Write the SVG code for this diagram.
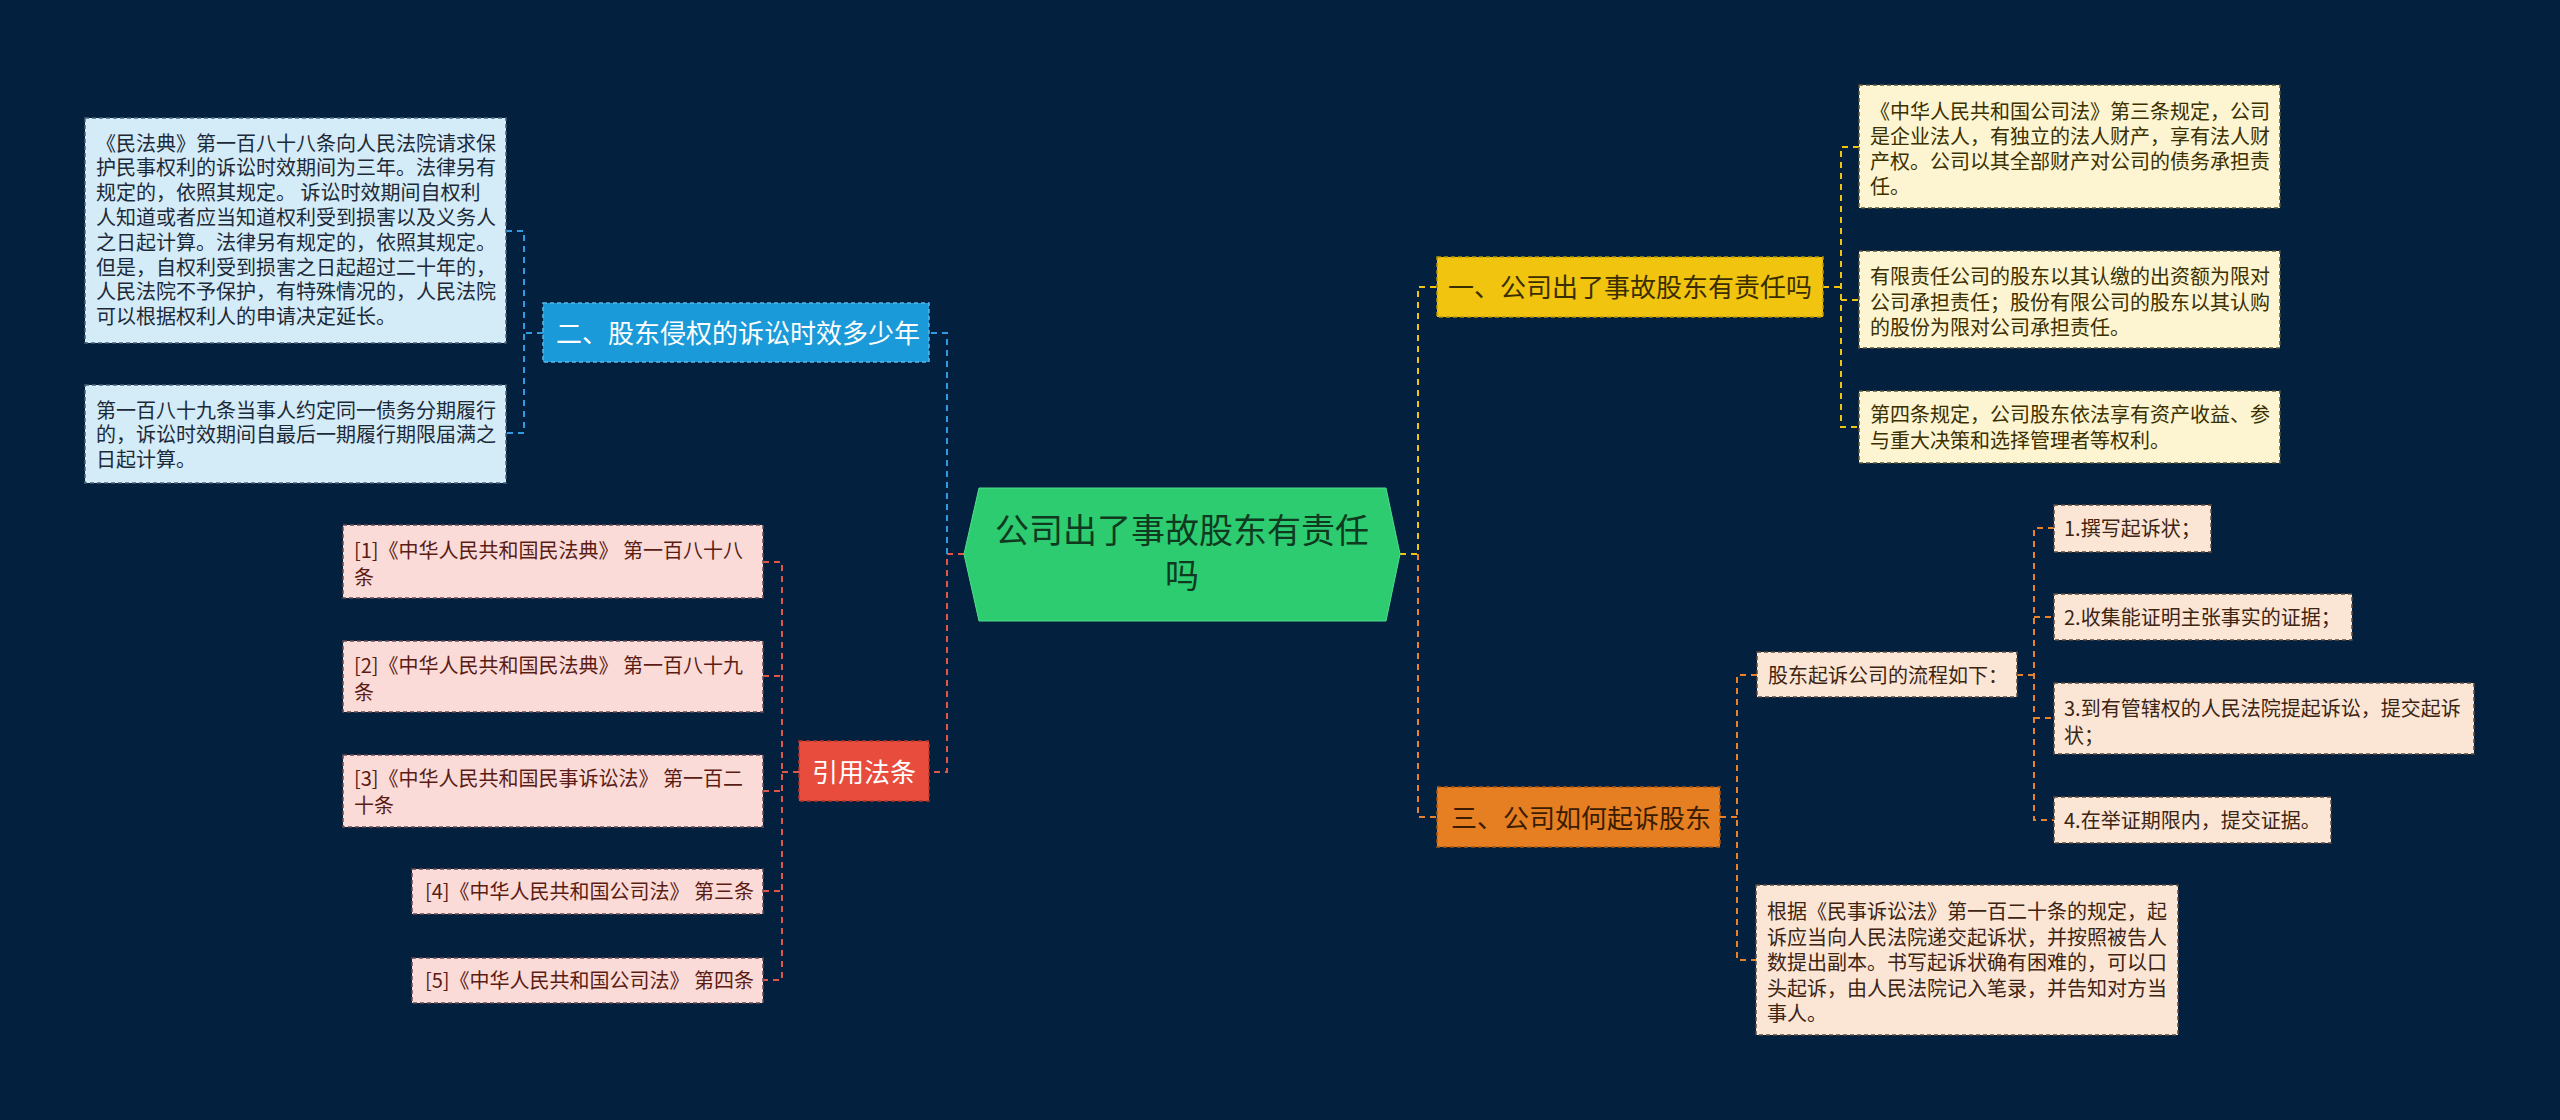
<svg xmlns="http://www.w3.org/2000/svg" width="2560" height="1120" viewBox="0 0 2560 1120">
<style>
text{font-family:"Noto Sans CJK SC","Noto Sans",sans-serif;}
.t20{font-size:20px;}
.t26{font-size:26px;}
.c{fill:none;stroke-width:2;stroke-dasharray:6 5;}
.cb{stroke:#2f9be0;}
.cr{stroke:#e0574a;}
.cy{stroke:#f1c40f;}
.co{stroke:#e8832c;}
.boxb{fill:#d4ebf8;stroke:#4a6278;stroke-width:1.5;stroke-dasharray:4 3;}
.boxp{fill:#fadbd8;stroke:#6a4a50;stroke-width:1.5;stroke-dasharray:4 3;}
.boxy{fill:#fdf5d2;stroke:#5a5438;stroke-width:1.5;stroke-dasharray:4 3;}
.boxo{fill:#fbe6d6;stroke:#5e4a3c;stroke-width:1.5;stroke-dasharray:4 3;}
.tb{fill:#1c2a38;}
.tp{fill:#5a1c14;}
.ty{fill:#3a3000;}
.to{fill:#3e2412;}
</style>
<rect x="0" y="0" width="2560" height="1120" fill="#03203f"/>

<g id="connectors">
  <path class="c cb" d="M947,554 V333 H929"/>
  <path class="c cr" d="M964,554 H947 V772 H929"/>
  <path class="c cb" d="M543,333 H524"/>
  <path class="c cb" d="M506,231 H524 V433 H506"/>
  <path class="c cr" d="M799,772 H782"/>
  <path class="c cr" d="M763,562 H782 V980 H763"/>
  <path class="c cr" d="M763,676 H782"/>
  <path class="c cr" d="M763,791 H782"/>
  <path class="c cr" d="M763,891 H782"/>
  <path class="c cy" d="M1400,554 H1418 V287 H1437"/>
  <path class="c co" d="M1418,554 V817 H1437"/>
  <path class="c cy" d="M1823,287 H1841"/>
  <path class="c cy" d="M1859,147 H1841 V427 H1859"/>
  <path class="c cy" d="M1841,300 H1859"/>
  <path class="c co" d="M1720,817 H1737"/>
  <path class="c co" d="M1757,675 H1737 V960 H1756"/>
  <path class="c co" d="M2017,675 H2034"/>
  <path class="c co" d="M2054,528 H2034 V820 H2054"/>
  <path class="c co" d="M2034,617 H2054"/>
  <path class="c co" d="M2034,718 H2054"/>
</g>

<g id="center">
  <polygon points="964,554 979,488 1386,488 1400,554 1386,621 979,621" fill="#2ecc71" stroke="#4ee08a" stroke-width="1"/>
  <text x="1182" y="543" font-size="34" text-anchor="middle" fill="#0f3a20">公司出了事故股东有责任</text>
  <text x="1182" y="588" font-size="34" text-anchor="middle" fill="#0f3a20">吗</text>
</g>

<g id="branch-2">
  <rect x="543" y="303" width="386" height="59" fill="#1a9ad8" stroke="#5ab8e6" stroke-width="1.5" stroke-dasharray="4 3"/>
  <text class="t26" x="556" y="343" fill="#ffffff">二、股东侵权的诉讼时效多少年</text>
</g>

<g id="b2-text1">
  <rect class="boxb" x="85" y="118" width="421" height="225"/>
  <text class="t20 tb">
    <tspan x="96" y="150.6">《民法典》第一百八十八条向人民法院请求保</tspan>
    <tspan x="96" y="175.4">护民事权利的诉讼时效期间为三年。法律另有</tspan>
    <tspan x="96" y="200.2">规定的，依照其规定。 诉讼时效期间自权利</tspan>
    <tspan x="96" y="225">人知道或者应当知道权利受到损害以及义务人</tspan>
    <tspan x="96" y="249.8">之日起计算。法律另有规定的，依照其规定。</tspan>
    <tspan x="96" y="274.6">但是，自权利受到损害之日起超过二十年的，</tspan>
    <tspan x="96" y="299.4">人民法院不予保护，有特殊情况的，人民法院</tspan>
    <tspan x="96" y="324.2">可以根据权利人的申请决定延长。</tspan>
  </text>
</g>

<g id="b2-text2">
  <rect class="boxb" x="85" y="385" width="421" height="98"/>
  <text class="t20 tb">
    <tspan x="96" y="417.6">第一百八十九条当事人约定同一债务分期履行</tspan>
    <tspan x="96" y="442.2">的，诉讼时效期间自最后一期履行期限届满之</tspan>
    <tspan x="96" y="466.8">日起计算。</tspan>
  </text>
</g>

<g id="branch-ref">
  <rect x="799" y="741" width="130" height="60" fill="#e74c3c" stroke="#b83325" stroke-width="1.5" stroke-dasharray="4 3"/>
  <text class="t26" x="864" y="782" text-anchor="middle" fill="#ffffff">引用法条</text>
</g>

<g id="ref-1">
  <rect class="boxp" x="343" y="525" width="420" height="73"/>
  <text class="t20 tp"><tspan x="354" y="558">[1]《中华人民共和国民法典》 第一百八十八</tspan><tspan x="354" y="585">条</tspan></text>
</g>
<g id="ref-2">
  <rect class="boxp" x="343" y="641" width="420" height="71"/>
  <text class="t20 tp"><tspan x="354" y="673">[2]《中华人民共和国民法典》 第一百八十九</tspan><tspan x="354" y="700">条</tspan></text>
</g>
<g id="ref-3">
  <rect class="boxp" x="343" y="755" width="420" height="72"/>
  <text class="t20 tp"><tspan x="354" y="786">[3]《中华人民共和国民事诉讼法》 第一百二</tspan><tspan x="354" y="813">十条</tspan></text>
</g>
<g id="ref-4">
  <rect class="boxp" x="412" y="869" width="351" height="45"/>
  <text class="t20 tp" x="425" y="899">[4]《中华人民共和国公司法》 第三条</text>
</g>
<g id="ref-5">
  <rect class="boxp" x="412" y="958" width="351" height="45"/>
  <text class="t20 tp" x="425" y="988">[5]《中华人民共和国公司法》 第四条</text>
</g>

<g id="branch-1">
  <rect x="1437" y="257" width="386" height="60" fill="#f1c40f" stroke="#b8940a" stroke-width="1.5" stroke-dasharray="4 3"/>
  <text class="t26" x="1448" y="297" fill="#3a2e00">一、公司出了事故股东有责任吗</text>
</g>

<g id="b1-text1">
  <rect class="boxy" x="1859" y="85" width="421" height="123"/>
  <text class="t20 ty">
    <tspan x="1870" y="119">《中华人民共和国公司法》第三条规定，公司</tspan>
    <tspan x="1870" y="144">是企业法人，有独立的法人财产，享有法人财</tspan>
    <tspan x="1870" y="169">产权。公司以其全部财产对公司的债务承担责</tspan>
    <tspan x="1870" y="194">任。</tspan>
  </text>
</g>
<g id="b1-text2">
  <rect class="boxy" x="1859" y="251" width="421" height="97"/>
  <text class="t20 ty">
    <tspan x="1870" y="284">有限责任公司的股东以其认缴的出资额为限对</tspan>
    <tspan x="1870" y="309.5">公司承担责任；股份有限公司的股东以其认购</tspan>
    <tspan x="1870" y="335">的股份为限对公司承担责任。</tspan>
  </text>
</g>
<g id="b1-text3">
  <rect class="boxy" x="1859" y="391" width="421" height="72"/>
  <text class="t20 ty">
    <tspan x="1870" y="422">第四条规定，公司股东依法享有资产收益、参</tspan>
    <tspan x="1870" y="448">与重大决策和选择管理者等权利。</tspan>
  </text>
</g>

<g id="branch-3">
  <rect x="1437" y="787" width="283" height="60" fill="#e67e22" stroke="#a85510" stroke-width="1.5" stroke-dasharray="4 3"/>
  <text class="t26" x="1451" y="828" fill="#3a1c00">三、公司如何起诉股东</text>
</g>

<g id="b3-flow">
  <rect class="boxo" x="1757" y="652" width="260" height="45"/>
  <text class="t20 to" x="1768" y="683">股东起诉公司的流程如下：</text>
</g>
<g id="step-1">
  <rect class="boxo" x="2054" y="505" width="157" height="47"/>
  <text class="t20 to" x="2064" y="536">1.撰写起诉状；</text>
</g>
<g id="step-2">
  <rect class="boxo" x="2054" y="594" width="298" height="46"/>
  <text class="t20 to" x="2064" y="625">2.收集能证明主张事实的证据；</text>
</g>
<g id="step-3">
  <rect class="boxo" x="2054" y="683" width="420" height="71"/>
  <text class="t20 to"><tspan x="2064" y="716">3.到有管辖权的人民法院提起诉讼，提交起诉</tspan><tspan x="2064" y="743">状；</tspan></text>
</g>
<g id="step-4">
  <rect class="boxo" x="2054" y="797" width="277" height="46"/>
  <text class="t20 to" x="2064" y="828">4.在举证期限内，提交证据。</text>
</g>
<g id="b3-text">
  <rect class="boxo" x="1756" y="885" width="422" height="150"/>
  <text class="t20 to">
    <tspan x="1767" y="919">根据《民事诉讼法》第一百二十条的规定，起</tspan>
    <tspan x="1767" y="944.5">诉应当向人民法院递交起诉状，并按照被告人</tspan>
    <tspan x="1767" y="970">数提出副本。书写起诉状确有困难的，可以口</tspan>
    <tspan x="1767" y="995.5">头起诉，由人民法院记入笔录，并告知对方当</tspan>
    <tspan x="1767" y="1021">事人。</tspan>
  </text>
</g>
</svg>
